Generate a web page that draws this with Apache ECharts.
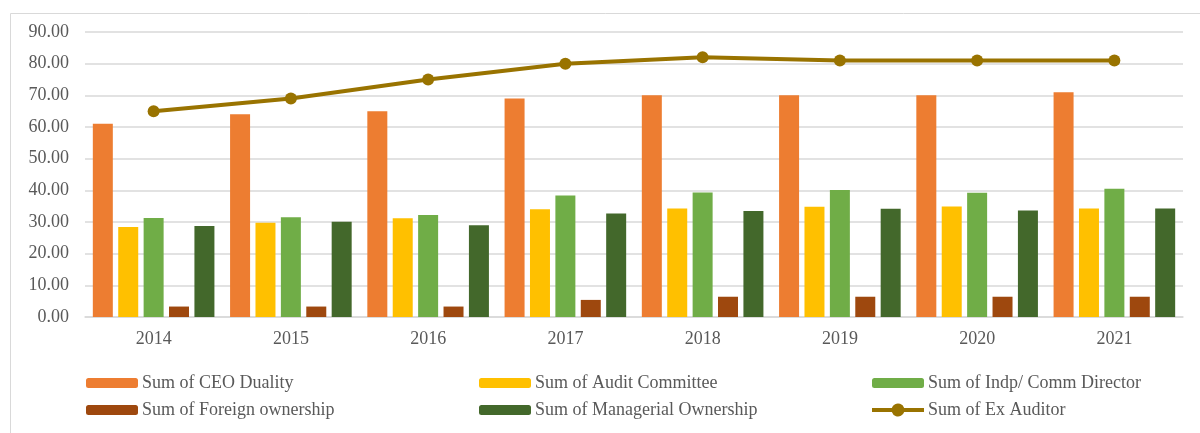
<!DOCTYPE html>
<html>
<head>
<meta charset="utf-8">
<title>Governance chart</title>
<script src="https://cdn.jsdelivr.net/npm/echarts@6/dist/echarts.min.js"></script>
<style>
  html, body { margin: 0; padding: 0; background: #fff; }
  #chart { width: 1200px; height: 433px; }
</style>
</head>
<body>
<div id="chart"></div>
<script>
// 年份
const years = ['2014', '2015', '2016', '2017', '2018', '2019', '2020', '2021'];
// 各指标数值
const ceoDuality = [61, 64, 65, 69, 70, 70, 70, 71];
const auditCommittee = [28.4, 29.8, 31.2, 34.0, 34.3, 34.8, 34.9, 34.3];
const indpDirector = [31.3, 31.5, 32.2, 38.4, 39.3, 40.1, 39.2, 40.5];
const foreignOwnership = [3.3, 3.3, 3.3, 5.4, 6.4, 6.4, 6.4, 6.4];
const managerialOwnership = [28.7, 30.1, 29.0, 32.7, 33.5, 34.2, 33.6, 34.3];
const exAuditor = [65, 69, 75, 80, 82, 81, 81, 81];
// y轴刻度
const yTicks = [0, 10, 20, 30, 40, 50, 60, 70, 80, 90];

const seriesNames = [
  'Sum of CEO Duality',
  'Sum of Audit Committee',
  'Sum of Indp/ Comm Director',
  'Sum of Foreign ownership',
  'Sum of Managerial Ownership',
  'Sum of Ex Auditor',
];
const colors = ['#ED7D31', '#FFC000', '#70AD47', '#9E480E', '#43682B', '#997300'];
const barData = [ceoDuality, auditCommittee, indpDirector, foreignOwnership, managerialOwnership];

const font = '"Liberation Serif", "Times New Roman", serif';

// 折线图例图标：粗线中间一个圆点
const lineIcon = 'path://M0,4.5H19.82A6.5,6.5,0,0,1,32.18,4.5H52V8.5H32.18A6.5,6.5,0,0,1,19.82,8.5H0Z';

// 图例：两行三列，单独定位
const legendPos = [
  { left: 86, top: 374 }, { left: 479, top: 374 }, { left: 872, top: 374 },
  { left: 86, top: 401 }, { left: 479, top: 401 }, { left: 872, top: 401 },
];
const legends = seriesNames.map((name, i) => {
  const lg = {
    data: [name],
    left: legendPos[i].left,
    top: legendPos[i].top,
    itemWidth: 52,
    itemHeight: 10,
    itemGap: 5,
    padding: 0,
    selectedMode: false,
    textStyle: { fontFamily: font, fontSize: 18, color: '#595959', padding: [0, 0, 0, -1] },
  };
  if (i === 5) {
    lg.data = [{ name, icon: lineIcon }];
    lg.itemHeight = 13;
  }
  return lg;
});

const chart = echarts.init(document.getElementById('chart'));

const series = barData.map((data, i) => ({
  name: seriesNames[i],
  type: 'bar',
  data,
  barWidth: 20,
  barGap: '27%',
  itemStyle: { color: colors[i] },
}));
series.push({
  name: seriesNames[5],
  type: 'line',
  data: exAuditor,
  symbol: 'circle',
  symbolSize: 12,
  lineStyle: { color: colors[5], width: 4 },
  itemStyle: { color: colors[5] },
  z: 5,
});

chart.setOption({
  animation: false,
  color: colors,
  legend: legends,
  grid: { left: 85, right: 17, top: 32, bottom: 116 },
  graphic: [
    {
      type: 'rect',
      shape: { x: 10.5, y: 13.5, width: 1250, height: 500 },
      style: { fill: null, stroke: '#d9d9d9', lineWidth: 1 },
      silent: true,
    },
  ],
  xAxis: {
    type: 'category',
    data: years,
    axisTick: { show: false },
    axisLine: { lineStyle: { color: '#d9d9d9', width: 1.5 } },
    axisLabel: { fontFamily: font, fontSize: 18, color: '#595959', margin: 13 },
  },
  yAxis: {
    type: 'value',
    min: yTicks[0],
    max: yTicks[yTicks.length - 1],
    interval: 10,
    axisLine: { show: false },
    axisTick: { show: false },
    splitLine: { lineStyle: { color: '#d9d9d9', width: 1.5 } },
    axisLabel: {
      fontFamily: font, fontSize: 18, color: '#595959', margin: 16,
      formatter: v => v.toFixed(2),
    },
  },
  series,
});
</script>
</body>
</html>
